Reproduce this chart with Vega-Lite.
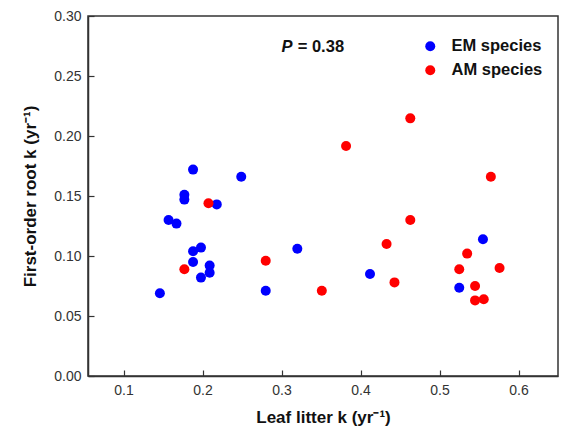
{
  "$schema": "https://vega.github.io/schema/vega-lite/v6.json",
  "width": 470,
  "height": 360,
  "autosize": "none",
  "padding": {"left": 88, "top": 16, "right": 3, "bottom": 65},
  "config": {
    "font": "Liberation Sans",
    "view": {"stroke": "#333333", "strokeWidth": 1.5},
    "axis": {
      "domainColor": "#333333",
      "domainWidth": 1.5,
      "tickColor": "#333333",
      "tickWidth": 1.2,
      "tickSize": -6,
      "grid": false,
      "labelFont": "Liberation Sans",
      "labelFontSize": 14,
      "labelColor": "#333333",
      "titleFont": "Liberation Sans",
      "titleFontSize": 17,
      "titleFontWeight": "bold",
      "titleColor": "#111111"
    }
  },
  "layer": [
    {
      "data": {
        "values": [
          {"leaf": 0.188, "root": 0.172, "group": "EM species"},
          {"leaf": 0.249, "root": 0.166, "group": "EM species"},
          {"leaf": 0.177, "root": 0.151, "group": "EM species"},
          {"leaf": 0.177, "root": 0.147, "group": "EM species"},
          {"leaf": 0.218, "root": 0.143, "group": "EM species"},
          {"leaf": 0.157, "root": 0.130, "group": "EM species"},
          {"leaf": 0.167, "root": 0.127, "group": "EM species"},
          {"leaf": 0.198, "root": 0.107, "group": "EM species"},
          {"leaf": 0.188, "root": 0.104, "group": "EM species"},
          {"leaf": 0.320, "root": 0.106, "group": "EM species"},
          {"leaf": 0.188, "root": 0.095, "group": "EM species"},
          {"leaf": 0.209, "root": 0.092, "group": "EM species"},
          {"leaf": 0.209, "root": 0.086, "group": "EM species"},
          {"leaf": 0.198, "root": 0.082, "group": "EM species"},
          {"leaf": 0.146, "root": 0.069, "group": "EM species"},
          {"leaf": 0.280, "root": 0.071, "group": "EM species"},
          {"leaf": 0.412, "root": 0.085, "group": "EM species"},
          {"leaf": 0.555, "root": 0.114, "group": "EM species"},
          {"leaf": 0.525, "root": 0.0736, "group": "EM species"},
          {"leaf": 0.2075, "root": 0.144, "group": "AM species"},
          {"leaf": 0.177, "root": 0.089, "group": "AM species"},
          {"leaf": 0.280, "root": 0.096, "group": "AM species"},
          {"leaf": 0.351, "root": 0.071, "group": "AM species"},
          {"leaf": 0.463, "root": 0.2147, "group": "AM species"},
          {"leaf": 0.3817, "root": 0.1917, "group": "AM species"},
          {"leaf": 0.565, "root": 0.166, "group": "AM species"},
          {"leaf": 0.463, "root": 0.130, "group": "AM species"},
          {"leaf": 0.433, "root": 0.110, "group": "AM species"},
          {"leaf": 0.535, "root": 0.102, "group": "AM species"},
          {"leaf": 0.443, "root": 0.078, "group": "AM species"},
          {"leaf": 0.525, "root": 0.089, "group": "AM species"},
          {"leaf": 0.576, "root": 0.090, "group": "AM species"},
          {"leaf": 0.545, "root": 0.075, "group": "AM species"},
          {"leaf": 0.545, "root": 0.063, "group": "AM species"},
          {"leaf": 0.556, "root": 0.064, "group": "AM species"}
        ]
      },
      "mark": {"type": "point", "filled": true, "opacity": 1, "size": 100, "shape": "circle"},
      "encoding": {
        "x": {
          "field": "leaf",
          "type": "quantitative",
          "scale": {"domain": [0.055, 0.65], "nice": false, "zero": false},
          "axis": {"values": [0.1, 0.2, 0.3, 0.4, 0.5, 0.6], "format": ".1f", "title": "Leaf litter k (yr⁻¹)", "labelPadding": 13, "titlePadding": 12}
        },
        "y": {
          "field": "root",
          "type": "quantitative",
          "scale": {"domain": [0, 0.30], "nice": false},
          "axis": {"values": [0, 0.05, 0.1, 0.15, 0.2, 0.25, 0.3], "format": ".2f", "title": "First-order root k (yr⁻¹)", "labelPadding": 13, "titlePadding": 14}
        },
        "color": {
          "field": "group",
          "type": "nominal",
          "scale": {"domain": ["EM species", "AM species"], "range": ["#0000ff", "#ff0000"]},
          "legend": {
            "title": null,
            "orient": "none",
            "legendX": 334,
            "legendY": 22,
            "labelFontSize": 16.5,
            "labelFontWeight": "bold",
            "labelColor": "#111111",
            "symbolSize": 100,
            "symbolType": "circle",
            "rowPadding": 7,
            "labelOffset": 13
          }
        }
      }
    },
    {
      "data": {"values": [{"x": 0.3, "y": 0.274, "t": "P"}]},
      "mark": {"type": "text", "fontSize": 16.5, "fontWeight": "bold", "fontStyle": "italic", "align": "left", "baseline": "middle", "color": "#111111"},
      "encoding": {
        "x": {"field": "x", "type": "quantitative"},
        "y": {"field": "y", "type": "quantitative"},
        "text": {"field": "t"}
      }
    },
    {
      "data": {"values": [{"x": 0.3205, "y": 0.274, "t": "= 0.38"}]},
      "mark": {"type": "text", "fontSize": 16.5, "fontWeight": "bold", "align": "left", "baseline": "middle", "color": "#111111"},
      "encoding": {
        "x": {"field": "x", "type": "quantitative"},
        "y": {"field": "y", "type": "quantitative"},
        "text": {"field": "t"}
      }
    }
  ]
}
